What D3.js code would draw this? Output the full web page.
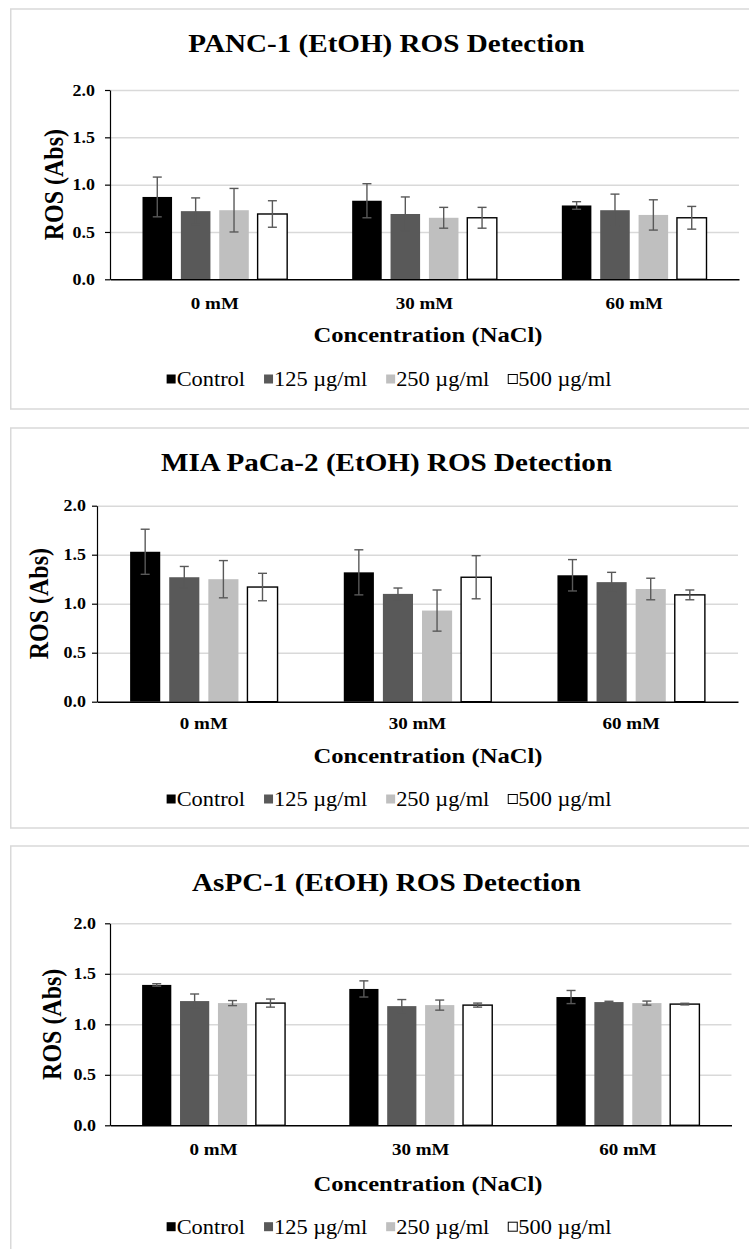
<!DOCTYPE html>
<html>
<head>
<meta charset="utf-8">
<script src="https://cdn.jsdelivr.net/npm/d3@7"></script>
<style>
  body { margin: 0; background: #fff; }
  text { font-family: "Liberation Serif", "Times New Roman", serif; fill: #000; }
</style>
</head>
<body>
<div id="chart"></div>
<script>
// data
var categories = ["0 mM", "30 mM", "60 mM"];
var series = ["Control", "125 µg/ml", "250 µg/ml", "500 µg/ml"];
var yTicks = [0, 0.5, 1.0, 1.5, 2.0];

var titles = ["PANC-1 (EtOH) ROS Detection", "MIA PaCa-2 (EtOH) ROS Detection", "AsPC-1 (EtOH) ROS Detection"];

// rows = concentration, columns = series
var panc1Mean = [[0.87, 0.72, 0.73, 0.69], [0.83, 0.69, 0.65, 0.65], [0.78, 0.73, 0.68, 0.65]];
var panc1Err  = [[0.21, 0.14, 0.23, 0.14], [0.18, 0.18, 0.11, 0.11], [0.04, 0.17, 0.16, 0.12]];
var miaMean   = [[1.53, 1.27, 1.25, 1.17], [1.32, 1.10, 0.93, 1.27], [1.29, 1.22, 1.15, 1.09]];
var miaErr    = [[0.23, 0.11, 0.19, 0.14], [0.23, 0.06, 0.21, 0.22], [0.16, 0.10, 0.11, 0.05]];
var aspcMean  = [[1.39, 1.23, 1.21, 1.21], [1.35, 1.18, 1.19, 1.19], [1.27, 1.22, 1.21, 1.20]];
var aspcErr   = [[0.012, 0.07, 0.025, 0.04], [0.08, 0.065, 0.05, 0.02], [0.065, 0.008, 0.02, 0.008]];

var colors = ["#000000", "#595959", "#bfbfbf", "#ffffff"];
var SX = 1.12; // the source text is a bit wider than Times

var svg = d3.select("#chart").append("svg").attr("width", 749).attr("height", 1249)
  .style("display", "block").style("background", "#fff");

// layout of each panel
var panels = [
  {title: titles[0], mean: panc1Mean, err: panc1Err, boxTop: 9, boxBottom: 409, x0: 110, x1: 739, yTop: 90, yBot: 279.3,
   titleY: 42.5, catY: 303, xTitleY: 334.3, legendY: 379, yTitleX: 53.5, labelGap: 15},
  {title: titles[1], mean: miaMean, err: miaErr, boxTop: 428, boxBottom: 828, x0: 97, x1: 738, yTop: 505.7, yBot: 701.7,
   titleY: 462, catY: 723, xTitleY: 755, legendY: 799, yTitleX: 39, labelGap: 11},
  {title: titles[2], mean: aspcMean, err: aspcErr, boxTop: 846, boxBottom: 1270, x0: 110, x1: 731.5, yTop: 923.3, yBot: 1125.3,
   titleY: 881.5, catY: 1149, xTitleY: 1183.3, legendY: 1226.7, yTitleX: 52, labelGap: 14}
];

function stretched(g, txt, x, y, size, weight, anchor) {
  return g.append("text").text(txt)
    .attr("transform", "translate(" + x + "," + y + ") scale(" + SX + ",1)")
    .attr("dy", "0.35em").attr("text-anchor", anchor || "middle")
    .style("font-size", size + "px").style("font-weight", weight || "normal");
}

panels.forEach(function(p) {
  var g = svg.append("g");

  g.append("rect").attr("x", 10.75).attr("y", p.boxTop).attr("width", 760).attr("height", p.boxBottom - p.boxTop)
    .attr("fill", "#fff").attr("stroke", "#d9d9d9").attr("stroke-width", 1.5);

  var x = d3.scaleBand().domain(categories).range([p.x0, p.x1]).paddingInner(0.31).paddingOuter(0.155);
  var xs = d3.scaleBand().domain(series).range([0, x.bandwidth()]).paddingInner(0.23);
  var y = d3.scaleLinear().domain([0, 2]).range([p.yBot, p.yTop]);

  // gridlines
  var grid = g.append("g").attr("transform", "translate(" + p.x0 + ",0)")
    .call(d3.axisLeft(y).tickValues(yTicks.slice(1)).tickSize(-(p.x1 - p.x0)).tickFormat(""));
  grid.select(".domain").remove();
  grid.selectAll("line").attr("stroke", "#d9d9d9").attr("stroke-width", 1.5);

  // bars
  var rows = [];
  p.mean.forEach(function(r, i) {
    r.forEach(function(v, j) { rows.push({cat: categories[i], s: series[j], j: j, v: v, e: p.err[i][j]}); });
  });

  g.selectAll(".bar").data(rows).enter().append("rect")
    .attr("x", function(d) { return x(d.cat) + xs(d.s); })
    .attr("y", function(d) { return y(d.v); })
    .attr("width", xs.bandwidth())
    .attr("height", function(d) { return y(0) - y(d.v); })
    .attr("fill", function(d) { return colors[d.j]; })
    .attr("stroke", function(d) { return d.j == 3 ? "#000" : "none"; })
    .attr("stroke-width", 1.4);

  // error bars
  var eb = g.selectAll(".err").data(rows).enter().append("g")
    .attr("stroke", "#595959").attr("stroke-width", 1.4);
  eb.append("line")
    .attr("x1", function(d) { return x(d.cat) + xs(d.s) + xs.bandwidth() / 2; })
    .attr("x2", function(d) { return x(d.cat) + xs(d.s) + xs.bandwidth() / 2; })
    .attr("y1", function(d) { return y(d.v - d.e); })
    .attr("y2", function(d) { return y(d.v + d.e); });
  [1, -1].forEach(function(sgn) {
    eb.append("line")
      .attr("x1", function(d) { return x(d.cat) + xs(d.s) + xs.bandwidth() / 2 - 4.5; })
      .attr("x2", function(d) { return x(d.cat) + xs(d.s) + xs.bandwidth() / 2 + 4.5; })
      .attr("y1", function(d) { return y(d.v + sgn * d.e); })
      .attr("y2", function(d) { return y(d.v + sgn * d.e); });
  });

  // y axis
  var ya = g.append("g").attr("transform", "translate(" + p.x0 + ",0)")
    .call(d3.axisLeft(y).tickValues(yTicks).tickFormat(d3.format(".1f")).tickSizeInner(5).tickSizeOuter(0));
  ya.select(".domain").attr("stroke", "#000").attr("stroke-width", 1.2);
  ya.selectAll(".tick line").attr("stroke", "#000").attr("stroke-width", 1.2);
  ya.selectAll(".tick text").attr("x", -p.labelGap / SX).attr("transform", "scale(" + SX + ",1)")
    .style("font-size", "16px").style("font-weight", "bold").attr("fill", "#000");

  // x axis
  var xa = g.append("g").attr("transform", "translate(0," + p.yBot + ")")
    .call(d3.axisBottom(x).tickSize(0).tickSizeOuter(0));
  xa.select(".domain").attr("stroke", "#000").attr("stroke-width", 1.4);
  xa.selectAll(".tick text").attr("y", p.catY - p.yBot).attr("dy", "0.35em")
    .attr("transform", "scale(" + SX + ",1)")
    .style("font-size", "17px").style("font-weight", "bold").attr("fill", "#000");

  // titles
  stretched(g, p.title, 386.5, p.titleY, 26, "bold");
  stretched(g, "Concentration (NaCl)", 428, p.xTitleY, 22, "bold");
  g.append("text").text("ROS (Abs)")
    .attr("transform", "translate(" + p.yTitleX + "," + (p.yTop + p.yBot) / 2 + ") rotate(-90) scale(1," + SX + ")")
    .attr("dy", "0.35em").attr("text-anchor", "middle")
    .style("font-size", "24px").style("font-weight", "bold");

  // legend
  var leg = g.append("g");
  var cx = 0;
  series.forEach(function(s, j) {
    leg.append("rect").attr("x", cx).attr("y", p.legendY - 4.5).attr("width", 9).attr("height", 9)
      .attr("fill", colors[j]).attr("stroke", j == 3 ? "#000" : "none").attr("stroke-width", 1);
    var t = stretched(leg, s, cx + 10, p.legendY, 20, "normal", "start");
    cx += 10 + t.node().getComputedTextLength() * SX + 19;
  });
  var legW = cx - 19;
  leg.attr("transform", "translate(" + (389 - legW / 2) + ",0)");
});
</script>
</body>
</html>
